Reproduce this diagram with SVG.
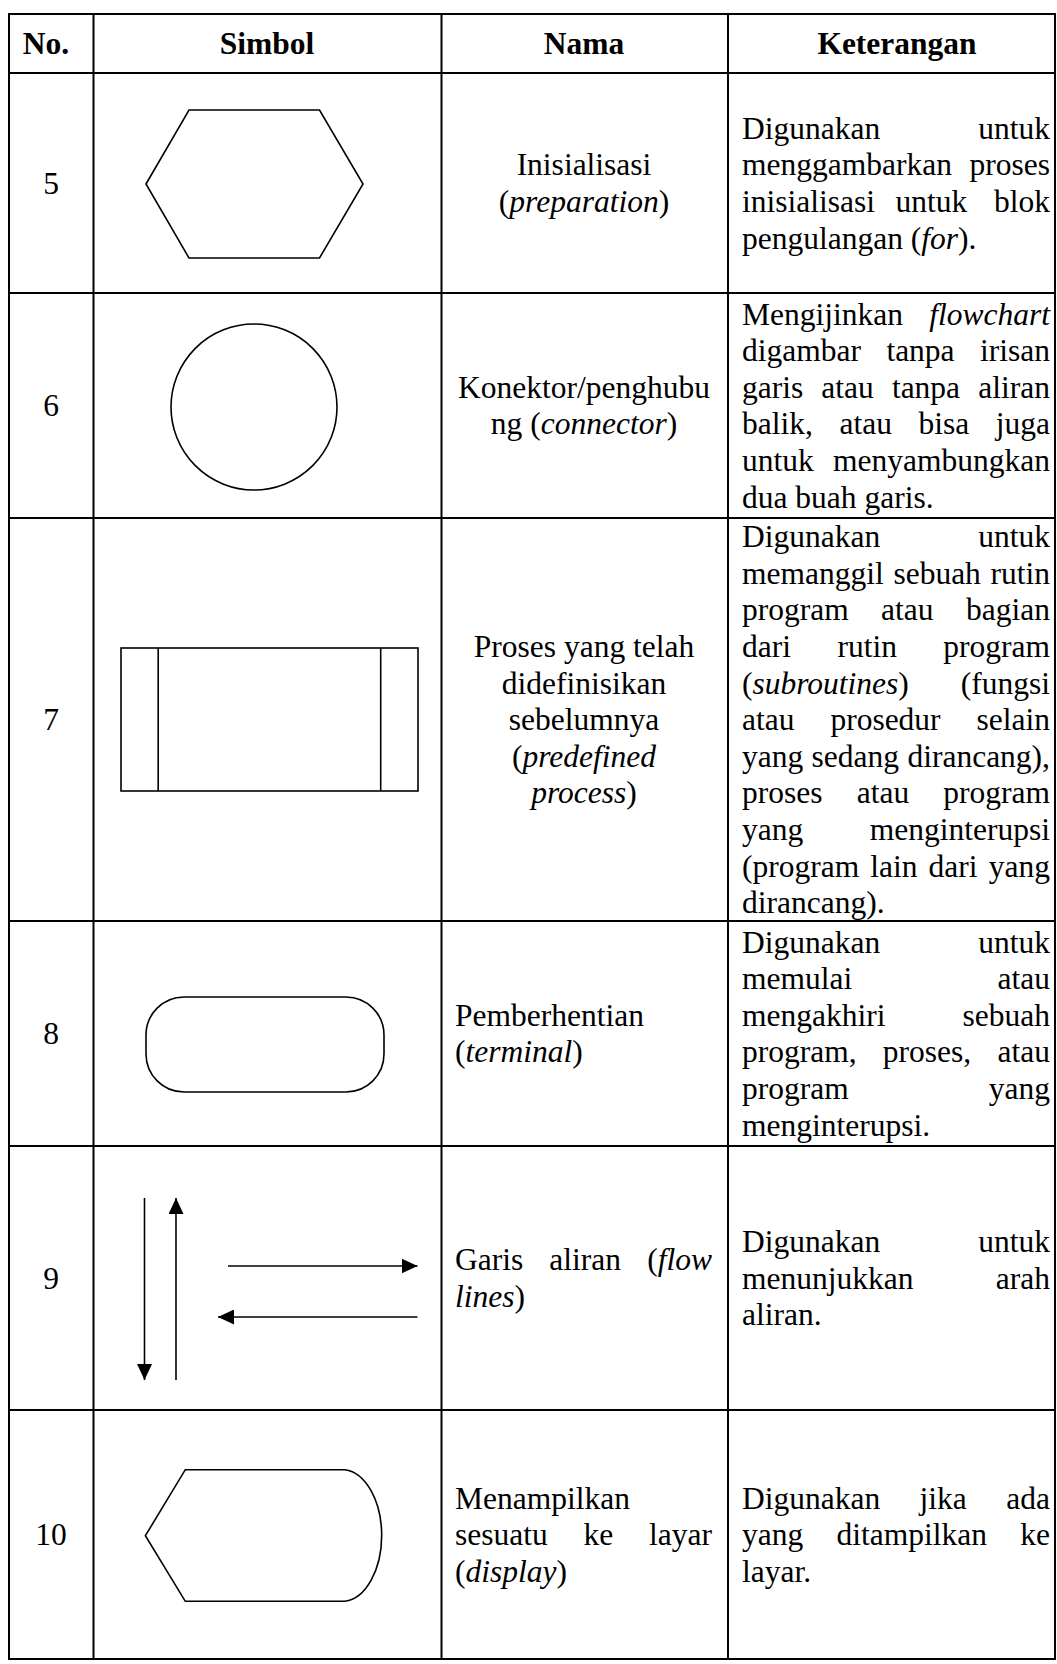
<svg xmlns="http://www.w3.org/2000/svg" width="1057" height="1664" viewBox="0 0 1057 1664">
  <style>
    .t { font-family: "Liberation Serif", "Times New Roman", serif; font-size: 31.5px; fill: #000; }
    .b { font-weight: bold; }
    .c { text-anchor: middle; }
    .e { text-anchor: end; }
    .i { font-style: italic; }
    .grid line { stroke: #000; stroke-width: 2; }
    .shape { fill: none; stroke: #000; stroke-width: 1.6; }
    .flow { stroke: #000; stroke-width: 1.6; fill: none; }
  </style>
  <defs>
    <marker id="head" markerUnits="userSpaceOnUse" markerWidth="16" markerHeight="15" refX="16" refY="7.5" orient="auto">
      <path d="M0,0 L16,7.5 L0,15 Z" fill="#000"/>
    </marker>
  </defs>

  <rect width="1057" height="1664" fill="#fff"/>

  <!-- table rules -->
  <g id="grid" class="grid">
    <line x1="9" y1="13" x2="9" y2="1660"/>
    <line x1="93.5" y1="13" x2="93.5" y2="1660"/>
    <line x1="441.5" y1="13" x2="441.5" y2="1660"/>
    <line x1="728" y1="13" x2="728" y2="1660"/>
    <line x1="1055" y1="13" x2="1055" y2="1660"/>
    <line x1="8" y1="14" x2="1056" y2="14"/>
    <line x1="8" y1="73" x2="1056" y2="73"/>
    <line x1="8" y1="293" x2="1056" y2="293"/>
    <line x1="8" y1="518" x2="1056" y2="518"/>
    <line x1="8" y1="921" x2="1056" y2="921"/>
    <line x1="8" y1="1146" x2="1056" y2="1146"/>
    <line x1="8" y1="1410" x2="1056" y2="1410"/>
    <line x1="8" y1="1659" x2="1056" y2="1659"/>
  </g>

  <!-- header -->
  <g id="header" class="t b">
    <text class="c" x="46" y="54">No.</text>
    <text class="c" x="267" y="54">Simbol</text>
    <text class="c" x="584" y="54">Nama</text>
    <text class="c" x="897" y="54">Keterangan</text>
  </g>

  <!-- 5: preparation -->
  <g id="row-5" class="t">
    <text class="c" x="51" y="193.6">5</text>
    <polygon class="shape" points="146,184 189,110 319.5,110 363,184 319.5,258 189,258"/>
    <text class="c" x="584" y="175.3">Inisialisasi</text>
    <text class="c" x="584" y="211.9">(<tspan class="i">preparation</tspan>)</text>
    <text x="742" y="138.7">Digunakan</text><text class="e" x="1050" y="138.7">untuk</text>
    <text x="742" y="175.3">menggambarkan</text><text class="e" x="1050" y="175.3">proses</text>
    <text x="742" y="211.9">inisialisasi</text><text x="895.5" y="211.9">untuk</text><text class="e" x="1050" y="211.9">blok</text>
    <text x="742" y="248.5">pengulangan (<tspan class="i">for</tspan>).</text>
  </g>

  <!-- 6: connector -->
  <g id="row-6" class="t">
    <text class="c" x="51" y="416">6</text>
    <circle class="shape" cx="254" cy="407" r="83"/>
    <text class="c" x="584" y="397.8">Konektor/penghubu</text>
    <text class="c" x="584" y="434.4">ng (<tspan class="i">connector</tspan>)</text>
    <text x="742" y="324.6">Mengijinkan</text><text class="e i" x="1050" y="324.6">flowchart</text>
    <text x="742" y="361.2">digambar</text><text x="886.4" y="361.2">tanpa</text><text class="e" x="1050" y="361.2">irisan</text>
    <text x="742" y="397.8">garis</text><text x="821.3" y="397.8">atau</text><text x="891.9" y="397.8">tanpa</text><text class="e" x="1050" y="397.8">aliran</text>
    <text x="742" y="434.4">balik,</text><text x="839.5" y="434.4">atau</text><text x="918.5" y="434.4">bisa</text><text class="e" x="1050" y="434.4">juga</text>
    <text x="742" y="471">untuk</text><text class="e" x="1050" y="471">menyambungkan</text>
    <text x="742" y="507.6">dua buah garis.</text>
  </g>

  <!-- 7: predefined process -->
  <g id="row-7" class="t">
    <text class="c" x="51" y="730">7</text>
    <rect class="shape" x="121" y="648" width="297" height="143"/>
    <line class="shape" x1="158.2" y1="648" x2="158.2" y2="791"/>
    <line class="shape" x1="380.7" y1="648" x2="380.7" y2="791"/>
    <text class="c" x="584" y="656.9">Proses yang telah</text>
    <text class="c" x="584" y="693.5">didefinisikan</text>
    <text class="c" x="584" y="730.1">sebelumnya</text>
    <text class="c" x="584" y="766.7">(<tspan class="i">predefined</tspan></text>
    <text class="c" x="584" y="803.3"><tspan class="i">process</tspan>)</text>
    <text x="742" y="547.1">Digunakan</text><text class="e" x="1050" y="547.1">untuk</text>
    <text x="742" y="583.7">memanggil</text><text x="893.4" y="583.7">sebuah</text><text class="e" x="1050" y="583.7">rutin</text>
    <text x="742" y="620.3">program</text><text x="881.1" y="620.3">atau</text><text class="e" x="1050" y="620.3">bagian</text>
    <text x="742" y="656.9">dari</text><text x="837.4" y="656.9">rutin</text><text class="e" x="1050" y="656.9">program</text>
    <text x="742" y="693.5">(<tspan class="i">subroutines</tspan>)</text><text class="e" x="1050" y="693.5">(fungsi</text>
    <text x="742" y="730.1">atau</text><text x="830.4" y="730.1">prosedur</text><text class="e" x="1050" y="730.1">selain</text>
    <text x="742" y="766.7">yang</text><text x="811.6" y="766.7">sedang</text><text class="e" x="1050" y="766.7">dirancang),</text>
    <text x="742" y="803.3">proses</text><text x="856.7" y="803.3">atau</text><text class="e" x="1050" y="803.3">program</text>
    <text x="742" y="839.9">yang</text><text class="e" x="1050" y="839.9">menginterupsi</text>
    <text x="742" y="876.5">(program</text><text x="870.3" y="876.5">lain</text><text x="928.6" y="876.5">dari</text><text class="e" x="1050" y="876.5">yang</text>
    <text x="742" y="913.1">dirancang).</text>
  </g>

  <!-- 8: terminal -->
  <g id="row-8" class="t">
    <text class="c" x="51" y="1044">8</text>
    <rect class="shape" x="146" y="997" width="238" height="95" rx="38" ry="38"/>
    <text x="455" y="1025.8">Pemberhentian</text>
    <text x="455" y="1062.4">(<tspan class="i">terminal</tspan>)</text>
    <text x="742" y="952.6">Digunakan</text><text class="e" x="1050" y="952.6">untuk</text>
    <text x="742" y="989.2">memulai</text><text class="e" x="1050" y="989.2">atau</text>
    <text x="742" y="1025.8">mengakhiri</text><text class="e" x="1050" y="1025.8">sebuah</text>
    <text x="742" y="1062.4">program,</text><text x="882.8" y="1062.4">proses,</text><text class="e" x="1050" y="1062.4">atau</text>
    <text x="742" y="1099">program</text><text class="e" x="1050" y="1099">yang</text>
    <text x="742" y="1135.6">menginterupsi.</text>
  </g>

  <!-- 9: flow lines -->
  <g id="row-9" class="t">
    <text class="c" x="51" y="1288.6">9</text>
    <g id="flow-lines">
      <line class="flow" x1="144.5" y1="1198" x2="144.5" y2="1380" marker-end="url(#head)"/>
      <line class="flow" x1="176" y1="1380" x2="176" y2="1198" marker-end="url(#head)"/>
      <line class="flow" x1="228" y1="1266" x2="417.5" y2="1266" marker-end="url(#head)"/>
      <line class="flow" x1="417.5" y1="1317" x2="218" y2="1317" marker-end="url(#head)"/>
    </g>
    <text x="455" y="1270.3">Garis</text><text x="549.3" y="1270.3">aliran</text><text class="e" x="712" y="1270.3">(<tspan class="i">flow</tspan></text>
    <text x="455" y="1306.9"><tspan class="i">lines</tspan>)</text>
    <text x="742" y="1252">Digunakan</text><text class="e" x="1050" y="1252">untuk</text>
    <text x="742" y="1288.6">menunjukkan</text><text class="e" x="1050" y="1288.6">arah</text>
    <text x="742" y="1325.2">aliran.</text>
  </g>

  <!-- 10: display -->
  <g id="row-10" class="t">
    <text class="c" x="51" y="1545">10</text>
    <path class="shape" d="M145.4,1535.7 L185.3,1469.7 L344.8,1469.7 A40,66 0 0 1 344.8,1601.3 L185.3,1601.3 Z"/>
    <text x="455" y="1508.5">Menampilkan</text>
    <text x="455" y="1545.1">sesuatu</text><text x="583.5" y="1545.1">ke</text><text class="e" x="712" y="1545.1">layar</text>
    <text x="455" y="1581.7">(<tspan class="i">display</tspan>)</text>
    <text x="742" y="1508.5">Digunakan</text><text x="919.6" y="1508.5">jika</text><text class="e" x="1050" y="1508.5">ada</text>
    <text x="742" y="1545.1">yang</text><text x="836.5" y="1545.1">ditampilkan</text><text class="e" x="1050" y="1545.1">ke</text>
    <text x="742" y="1581.7">layar.</text>
  </g>
</svg>
